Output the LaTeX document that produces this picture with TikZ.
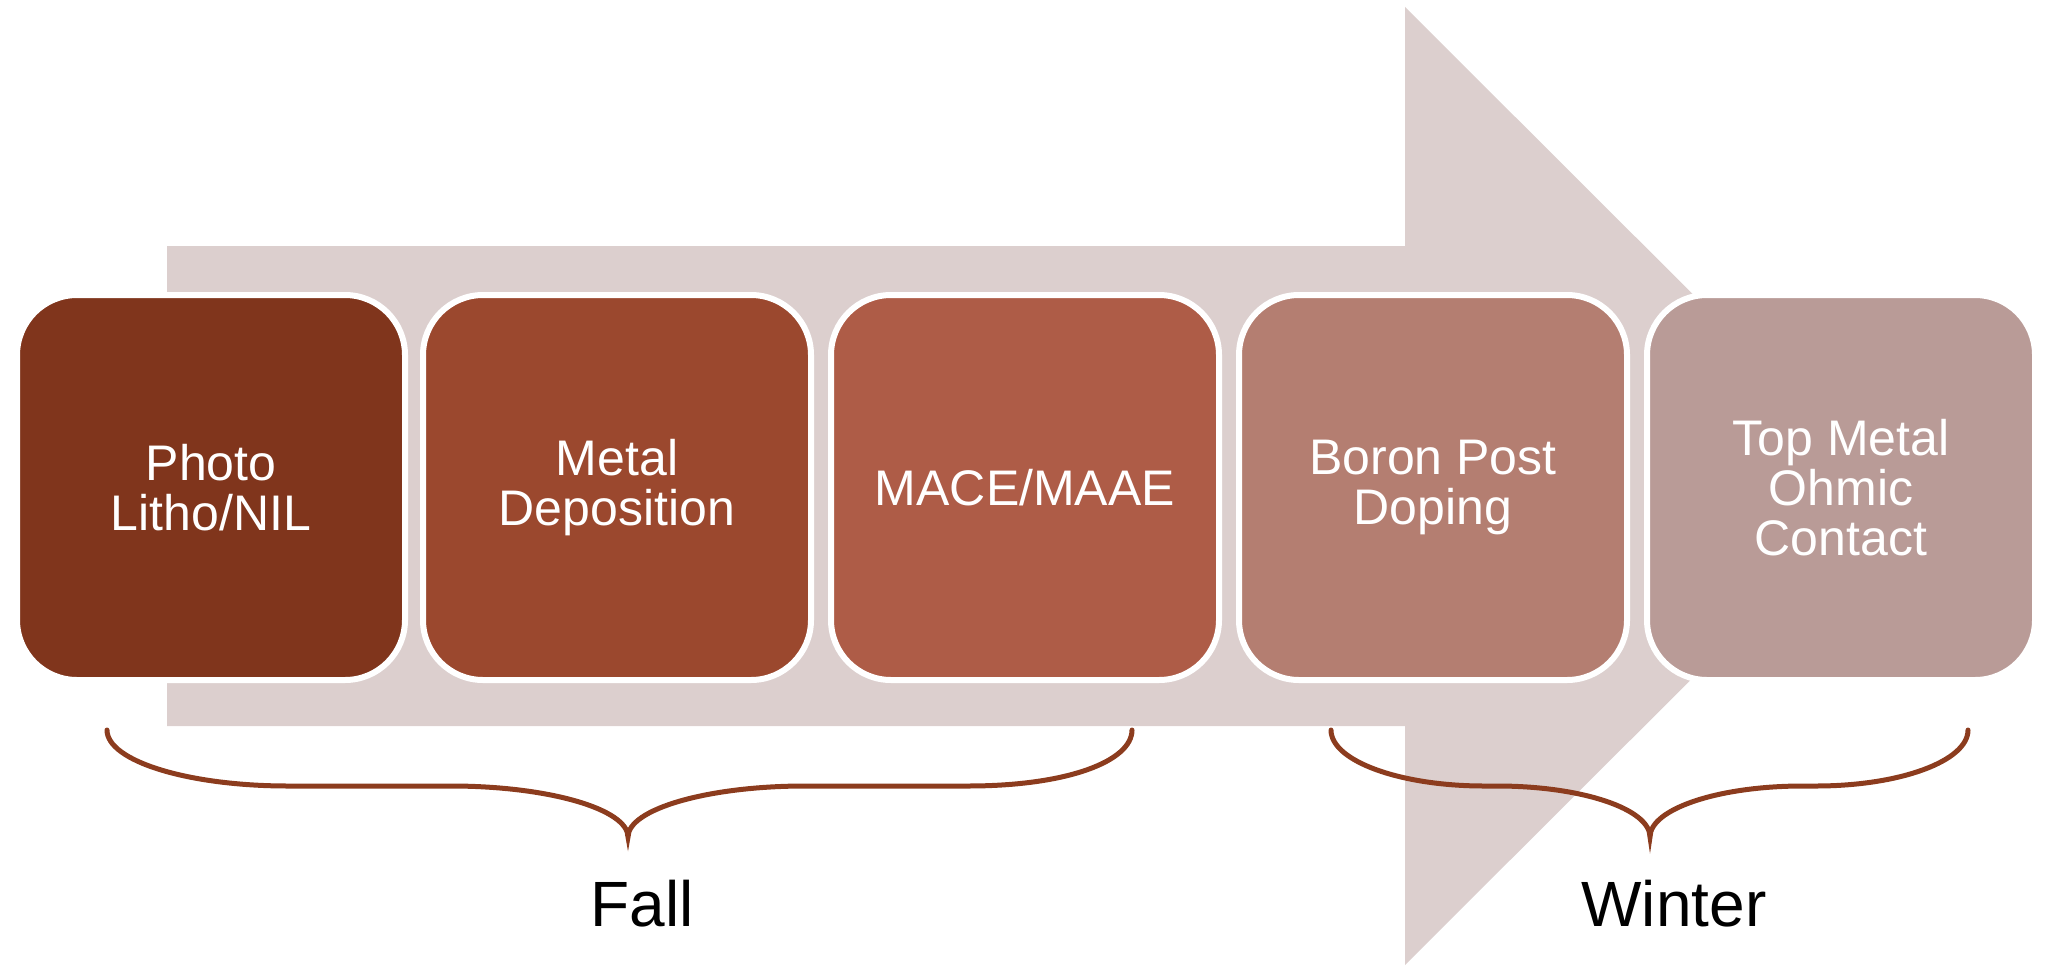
\documentclass[tikz,border=0pt]{standalone}
\usepackage{fontspec}
\setmainfont{Liberation Sans}
\definecolor{cA}{HTML}{80351C}
\definecolor{cB}{HTML}{9B482E}
\definecolor{cC}{HTML}{AE5C47}
\definecolor{cD}{HTML}{B47E71}
\definecolor{cE}{HTML}{B99B97}
\definecolor{arrowbg}{HTML}{DCCFCE}
\definecolor{bracec}{HTML}{8C3C1E}
\tikzset{
  stepbox/.style={rectangle, rounded corners=60pt, draw=white, line width=6pt,
    minimum width=388pt, minimum height=385pt, inner sep=0pt,
    text=white, align=center, font=\fontsize{50}{50}\selectfont},
  season/.style={anchor=base, text=black, font=\fontsize{64}{70}\selectfont},
  bracel/.style={draw=bracec, line width=5pt, line cap=round}
}
\begin{document}
\begin{tikzpicture}[x=1pt,y=-1pt]
\useasboundingbox (0,0) rectangle (2050,966);
% big arrow
\fill[arrowbg] (167,246) -- (1405,246) -- (1405,7) -- (1885,486) -- (1405,965) -- (1405,726) -- (167,726) -- cycle;
% boxes
\node[stepbox, fill=cA] (b1) at (211,487.5) {Photo\\Litho/NIL};
\node[stepbox, fill=cB] (b2) at (617,487.5) {Metal\\Deposition};
\node[stepbox, fill=cC] (b3) at (1025,487.5) {MACE/MAAE};
\node[stepbox, fill=cD] (b4) at (1433,487.5) {Boron Post\\Doping};
\node[stepbox, fill=cE] (b5) at (1841,487.5) {Top Metal\\Ohmic\\Contact};
% braces
\draw[bracel] (107,730) .. controls (107,761) and (188,786) .. (288,786)
  -- (451,786) .. controls (548,786) and (628,809) .. (628,837)
  .. controls (628,809) and (708,786) .. (805,786)
  -- (968,786) .. controls (1068,786) and (1132,761) .. (1132,730);
\draw[bracel] (1331,730) .. controls (1331,761) and (1400,786) .. (1484,786)
  -- (1497,786) .. controls (1582,786) and (1650,809) .. (1650,837)
  .. controls (1650,809) and (1718,786) .. (1803,786)
  -- (1816,786) .. controls (1900,786) and (1968,761) .. (1968,730);
% labels
\node[season] (fall) at (642,926) {Fall};
\node[season] (winter) at (1674,926) {Winter};
\end{tikzpicture}
\end{document}
